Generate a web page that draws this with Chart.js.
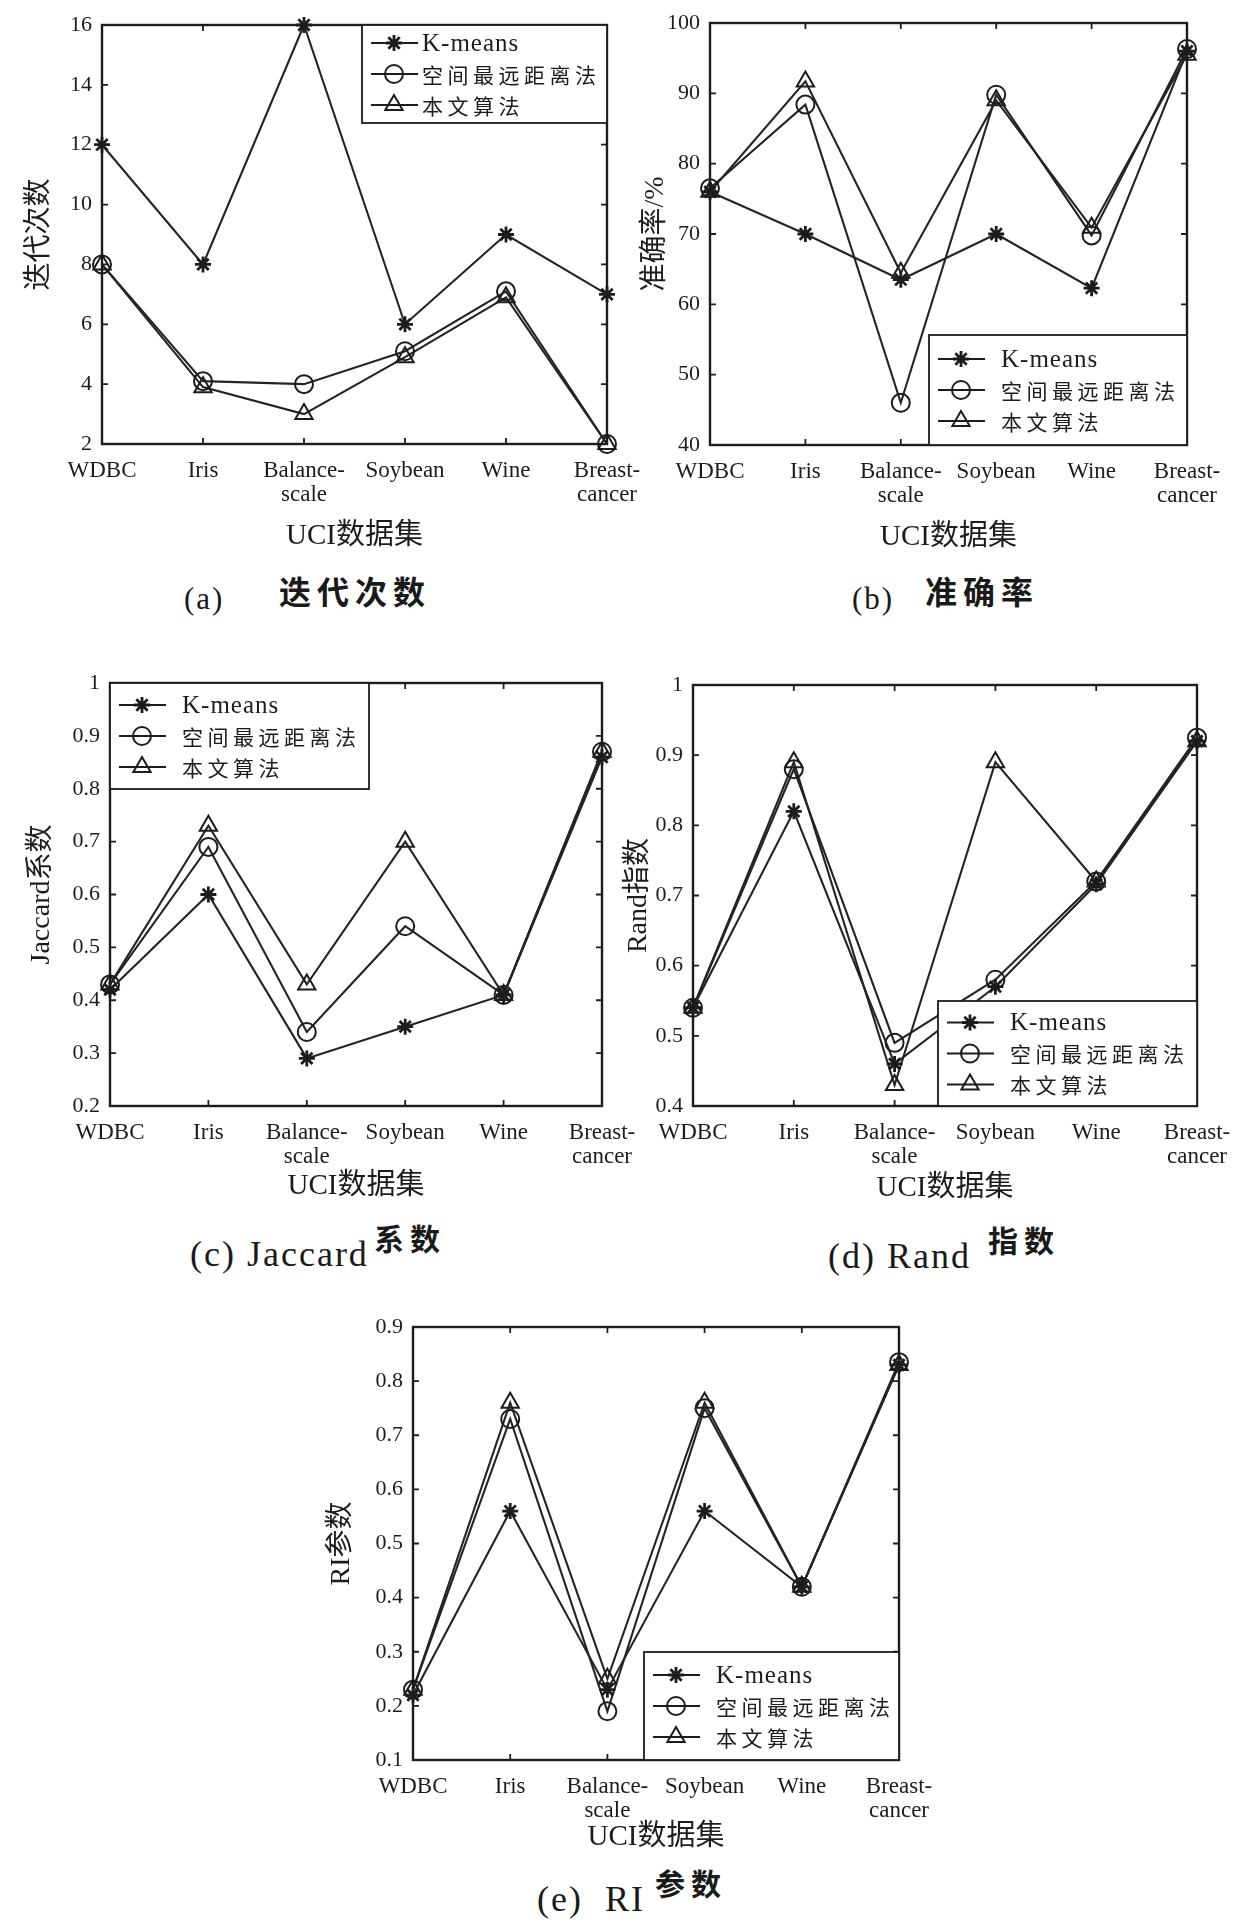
<!DOCTYPE html>
<html><head><meta charset="utf-8">
<script src="https://cdn.jsdelivr.net/npm/chart.js@4/dist/chart.umd.min.js"></script>
<style>
html,body{margin:0;padding:0;background:#fff;}
body{width:1248px;height:1920px;position:relative;overflow:hidden;}
canvas{position:absolute;}
.cap{position:absolute;white-space:pre;transform:translateY(-50%);color:#1a1a1a;line-height:1;}
.lat{font-family:"Liberation Serif","DejaVu Serif",serif;}
.cjk{font-family:"Noto Sans CJK SC",sans-serif;font-weight:700;}
</style></head><body>
<script>
// ---------------- data ----------------
const categories = ['WDBC', 'Iris', ['Balance-', 'scale'], 'Soybean', 'Wine', ['Breast-', 'cancer']];
const seriesNames = ['K-means', '空间最远距离法', '本文算法'];
const xAxisTitle = 'UCI数据集';

// (a) 迭代次数
const iterKmeans   = [12, 8, 16, 6, 9, 7];
const iterFarthest = [8, 4.1, 4, 5.1, 7.1, 2];
const iterOurs     = [8, 3.9, 3, 4.9, 6.9, 2];
const iterAxis     = [2, 16, 2];   // min, max, step

// (b) 准确率/%
const accKmeans   = [76, 70, 63.5, 70, 62.3, 96];
const accFarthest = [76.5, 88.4, 46, 89.8, 69.8, 96.3];
const accOurs     = [76, 91.7, 64.5, 89, 70.9, 95.5];
const accAxis     = [40, 100, 10];

// (c) Jaccard系数
const jacKmeans   = [0.42, 0.60, 0.29, 0.35, 0.41, 0.86];
const jacFarthest = [0.43, 0.69, 0.34, 0.54, 0.41, 0.87];
const jacOurs     = [0.43, 0.73, 0.43, 0.70, 0.41, 0.87];
const jacAxis     = [0.2, 1, 0.1];

// (d) Rand指数
const randKmeans   = [0.54, 0.82, 0.46, 0.57, 0.716, 0.92];
const randFarthest = [0.54, 0.88, 0.49, 0.58, 0.72, 0.925];
const randOurs     = [0.54, 0.89, 0.43, 0.89, 0.72, 0.92];
const randAxis     = [0.4, 1, 0.1];

// (e) RI参数
const riKmeans   = [0.22, 0.56, 0.23, 0.56, 0.42, 0.83];
const riFarthest = [0.23, 0.73, 0.19, 0.75, 0.42, 0.835];
const riOurs     = [0.23, 0.76, 0.25, 0.76, 0.42, 0.83];
const riAxis     = [0.1, 0.9, 0.1];

// ---------------- layout ----------------
const LAT = '"Liberation Serif", "DejaVu Serif", serif';
const MIX = '"Liberation Serif", "Noto Sans CJK SC", serif';
const INK = '#1c1c1c';

const panels = [
  {data: [iterKmeans, iterFarthest, iterOurs], axis: iterAxis, yTitle: '迭代次数',
   box: [102, 25, 607, 444], yTitleX: 40, xTitleY: 536, legend: {corner: 'tr', w: 245, h: 98, textX: 60}},
  {data: [accKmeans, accFarthest, accOurs], axis: accAxis, yTitle: '准确率/%',
   box: [710, 23, 1187, 445], yTitleX: 656, xTitleY: 537, legend: {corner: 'br', w: 258, h: 110, textX: 72}},
  {data: [jacKmeans, jacFarthest, jacOurs], axis: jacAxis, yTitle: 'Jaccard系数',
   box: [110, 683, 602, 1106], yTitleX: 42, xTitleY: 1186, legend: {corner: 'tl', w: 259, h: 106, textX: 72}},
  {data: [randKmeans, randFarthest, randOurs], axis: randAxis, yTitle: 'Rand指数',
   box: [693, 685, 1197, 1106], yTitleX: 639, xTitleY: 1188, legend: {corner: 'br', w: 259, h: 105, textX: 72}},
  {data: [riKmeans, riFarthest, riOurs], axis: riAxis, yTitle: 'RI参数',
   box: [413, 1327, 899, 1760], yTitleX: 342, xTitleY: 1837, legend: {corner: 'br', w: 255, h: 108, textX: 72}}
];

const captions = [
  {lat: '(a)', latX: 184, latY: 598, latSize: 31, cjk: '迭代次数', cjkX: 279, cjkY: 590, cjkSize: 32},
  {lat: '(b)', latX: 852, latY: 598, latSize: 31, cjk: '准确率', cjkX: 925, cjkY: 590, cjkSize: 32},
  {lat: '(c) Jaccard', latX: 190, latY: 1254, latSize: 36, cjk: '系数', cjkX: 374, cjkY: 1237, cjkSize: 30},
  {lat: '(d) Rand', latX: 828, latY: 1256, latSize: 36, cjk: '指数', cjkX: 988, cjkY: 1239, cjkSize: 30},
  {lat: '(e)  RI', latX: 537, latY: 1899, latSize: 36, cjk: '参数', cjkX: 655, cjkY: 1882, cjkSize: 30}
];

const markerStyles = [
  {pointStyle: 'star', radius: 8, width: 2.8},
  {pointStyle: 'circle', radius: 9, width: 2},
  {pointStyle: 'triangle', radius: 10, width: 2}
];

// ---------------- plugins ----------------
const framePlugin = {
  id: 'frame',
  afterDatasetsDraw(chart) {
    const {ctx, chartArea: a, scales: {x, y}} = chart;
    ctx.save();
    ctx.strokeStyle = INK;
    ctx.lineWidth = 2.4;
    ctx.strokeRect(a.left, a.top, a.right - a.left, a.bottom - a.top);
    ctx.lineWidth = 1.8;
    const tl = 6;
    ctx.beginPath();
    x.ticks.forEach((t, i) => {
      const px = x.getPixelForTick(i);
      ctx.moveTo(px, a.bottom); ctx.lineTo(px, a.bottom - tl);
      ctx.moveTo(px, a.top); ctx.lineTo(px, a.top + tl);
    });
    y.ticks.forEach(t => {
      const py = y.getPixelForValue(t.value);
      ctx.moveTo(a.left, py); ctx.lineTo(a.left + tl, py);
      ctx.moveTo(a.right, py); ctx.lineTo(a.right - tl, py);
    });
    ctx.stroke();
    ctx.restore();
  }
};

const insideLegend = {
  id: 'insideLegend',
  afterDraw(chart, args, opts) {
    const {ctx, chartArea: a} = chart;
    const w = opts.w, h = opts.h;
    const bx = opts.corner.includes('r') ? a.right - w : a.left;
    const by = opts.corner.includes('b') ? a.bottom - h : a.top;
    ctx.save();
    ctx.fillStyle = '#fff';
    ctx.fillRect(bx, by, w, h);
    ctx.strokeStyle = INK;
    ctx.lineWidth = 1.8;
    ctx.strokeRect(bx, by, w, h);
    const n = chart.data.datasets.length;
    const gap = 31;
    const first = by + h / 2 - gap * (n - 1) / 2;
    chart.data.datasets.forEach((ds, i) => {
      const ry = first + i * gap;
      ctx.strokeStyle = INK;
      ctx.lineWidth = 2;
      ctx.beginPath();
      ctx.moveTo(bx + 9, ry); ctx.lineTo(bx + 56, ry);
      ctx.stroke();
      ctx.fillStyle = 'rgba(255,255,255,0)';
      ctx.lineWidth = ds.pointBorderWidth;
      Chart.helpers.drawPoint(ctx, {pointStyle: ds.pointStyle, radius: ds.pointRadius, borderWidth: ds.pointBorderWidth, rotation: 0}, bx + 32, ry);
      ctx.fillStyle = INK;
      ctx.textBaseline = 'middle';
      ctx.textAlign = 'left';
      const isCJK = /[\u4e00-\u9fff]/.test(ds.label);
      if (isCJK) {
        ctx.font = '21px "Noto Sans CJK SC", sans-serif';
        if ('letterSpacing' in ctx) ctx.letterSpacing = '4.5px';
      } else {
        ctx.font = '25px ' + LAT;
        if ('letterSpacing' in ctx) ctx.letterSpacing = '1px';
      }
      ctx.fillText(ds.label, bx + opts.textX, ry + 1);
      if ('letterSpacing' in ctx) ctx.letterSpacing = '0px';
    });
    ctx.restore();
  }
};

function fmt(v) { return String(Number(v.toFixed(2))); }

function makePanel(p) {
  const [L, T, R, B] = p.box;
  const cl = p.yTitleX - 24, ct = T - 16, cr = R + 50, cb = p.xTitleY + 22;
  const cv = document.createElement('canvas');
  cv.width = cr - cl; cv.height = cb - ct;
  cv.style.left = cl + 'px'; cv.style.top = ct + 'px';
  cv.style.width = (cr - cl) + 'px'; cv.style.height = (cb - ct) + 'px';
  document.body.appendChild(cv);
  const yw = L - cl, xh = cb - B;
  const yTitleSize = 28, yTitleLH = 1.2;
  new Chart(cv, {
    type: 'line',
    data: {
      labels: categories,
      datasets: p.data.map((d, i) => ({
        label: seriesNames[i], data: d,
        borderColor: '#242424', borderWidth: 2.1, tension: 0, fill: false,
        pointStyle: markerStyles[i].pointStyle, pointRadius: markerStyles[i].radius,
        pointBorderWidth: markerStyles[i].width, pointBorderColor: INK,
        pointBackgroundColor: 'rgba(255,255,255,0)', clip: false
      }))
    },
    options: {
      responsive: false, animation: false, devicePixelRatio: 1,
      layout: {padding: {top: 16, right: 50, left: 0, bottom: 0}},
      plugins: {legend: {display: false}, tooltip: {enabled: false}, insideLegend: p.legend},
      scales: {
        x: {
          type: 'category', offset: false,
          grid: {display: false, drawTicks: false}, border: {display: false},
          ticks: {color: INK, font: {family: LAT, size: 23, lineHeight: 1.05}, padding: 15, maxRotation: 0, autoSkip: false},
          title: {display: true, text: xAxisTitle, color: INK, font: {family: MIX, size: 29, lineHeight: 1.2}, padding: {top: 0, bottom: 4.6}},
          afterFit: s => { s.height = xh; s.paddingLeft = 0; s.paddingRight = 0; }
        },
        y: {
          min: p.axis[0], max: p.axis[1],
          grid: {display: false, drawTicks: false}, border: {display: false},
          ticks: {stepSize: p.axis[2], color: INK, font: {family: LAT, size: 22}, padding: 10, callback: v => fmt(v)},
          title: {display: true, text: p.yTitle, color: INK, font: {family: MIX, size: yTitleSize, lineHeight: yTitleLH},
                  padding: {top: 24 - yTitleSize * yTitleLH / 2, bottom: 0}},
          afterFit: s => { s.width = yw; s.paddingTop = 0; s.paddingBottom = 0; }
        }
      }
    },
    plugins: [framePlugin, insideLegend]
  });
}

panels.forEach(makePanel);

captions.forEach(c => {
  const a = document.createElement('div');
  a.className = 'cap lat';
  a.style.left = c.latX + 'px'; a.style.top = c.latY + 'px';
  a.style.fontSize = c.latSize + 'px'; a.style.letterSpacing = '2px';
  a.textContent = c.lat;
  document.body.appendChild(a);
  const b = document.createElement('div');
  b.className = 'cap cjk';
  b.style.left = c.cjkX + 'px'; b.style.top = c.cjkY + 'px';
  b.style.fontSize = c.cjkSize + 'px'; b.style.letterSpacing = '6px';
  b.textContent = c.cjk;
  document.body.appendChild(b);
});
</script>
</body></html>
